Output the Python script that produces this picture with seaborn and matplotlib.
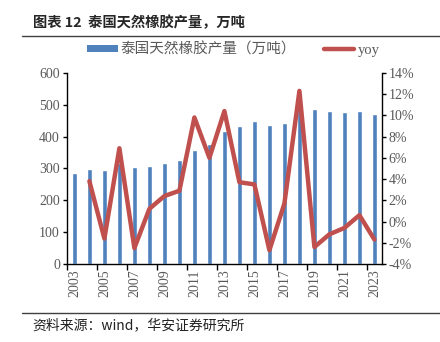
import numpy as np
import pandas as pd
import matplotlib
matplotlib.use("Agg")
import matplotlib.pyplot as plt
import seaborn as sns
from matplotlib.ticker import FixedLocator, FuncFormatter
from matplotlib.patches import Patch
from matplotlib.lines import Line2D

years = list(range(2003, 2024))
production = [287, 298, 295, 317, 305, 309, 317, 326, 357, 378, 417, 433,
              448, 436, 443, 495, 485, 479, 476, 479, 471]
yoy_years = list(range(2004, 2024))
yoy = [3.8, -1.6, 6.9, -2.5, 1.2, 2.4, 2.9, 9.8, 6.0, 10.4, 3.7, 3.5,
       -2.7, 1.7, 12.3, -2.4, -1.2, -0.6, 0.6, -1.7]

title = "图表 12  泰国天然橡胶产量，万吨"
bar_label = "泰国天然橡胶产量（万吨）"
line_label = "yoy"
source = "资料来源：wind，华安证券研究所"

sns.set_theme(style="white")
plt.rcParams['font.family'] = ['Liberation Serif', 'Noto Sans CJK SC']

BLUE = "#4F81BD"
RED = "#C0504D"
GRAY = "#595959"

fig = plt.figure(figsize=(4.4, 3.42), dpi=100)
ax = fig.add_axes([0.152, 0.228, 0.716, 0.559])

df = pd.DataFrame({"year": [str(y) for y in years], "prod": production})
sns.barplot(data=df, x="year", y="prod", color=BLUE, width=0.36, ax=ax,
            saturation=1)
ax.set_xlim(-0.5, len(years) - 0.5)
ax.set_ylim(0, 600)
ax.set_yticks(range(0, 601, 100))
ax.set_xlabel("")
ax.set_ylabel("")

ax2 = ax.twinx()
dfl = pd.DataFrame({"pos": [y - years[0] for y in yoy_years], "yoy": yoy})
sns.lineplot(data=dfl, x="pos", y="yoy", color=RED, linewidth=3.2, ax=ax2)
ax2.set_ylim(-4, 14)
ax2.set_yticks(range(-4, 15, 2))
ax2.yaxis.set_major_formatter(FuncFormatter(lambda v, p: f"{int(v)}%"))
ax2.set_xlim(-0.5, len(years) - 0.5)
ax2.set_xlabel("")
ax2.set_ylabel("")

# x ticks
ax.set_xticks(range(0, len(years), 2))
ax.set_xticklabels([str(y) for y in years[::2]], rotation=90)
ax.xaxis.set_minor_locator(FixedLocator(np.arange(-0.5, len(years), 2)))
ax.tick_params(axis="x", which="major", length=0, pad=4, labelsize=10, colors=GRAY)
ax.tick_params(axis="x", which="minor", length=4, width=1, color="black", direction="out", bottom=True)
ax.tick_params(axis="y", length=3, width=1, color="black", direction="out", left=True,
               labelsize=10, labelcolor=GRAY, pad=2)
ax2.tick_params(axis="y", length=3, width=1, color="black", direction="out", right=True,
                labelsize=10, labelcolor=GRAY, pad=2)

for a in (ax, ax2):
    a.spines["top"].set_visible(False)
    for s in ("left", "right", "bottom"):
        a.spines[s].set_color("black")
        a.spines[s].set_linewidth(1)
    a.grid(False)
ax.spines["right"].set_visible(False)
ax2.spines["left"].set_visible(False)
ax2.spines["bottom"].set_visible(False)

# legend
handles = [Patch(facecolor=BLUE, edgecolor="none"),
           Line2D([0], [0], color=RED, linewidth=3.2)]
leg = fig.legend(handles, [bar_label, line_label], loc="center",
                 bbox_to_anchor=(0.53, 0.855), ncol=2, frameon=False,
                 handlelength=2.1, handleheight=0.45,
                 columnspacing=1.9, handletextpad=0.2,
                 prop={"family": ["Liberation Serif", "Noto Sans CJK SC"], "size": 10.5})
for t in leg.get_texts():
    t.set_color(GRAY)

# title and rules
fig.text(0.075, 0.933, title, fontsize=10.3, fontweight="bold",
         family=["Noto Sans CJK SC"], va="center", ha="left")
fig.add_artist(Line2D([0.05, 1.0], [0.895, 0.895], color="#404040", linewidth=1))
fig.add_artist(Line2D([0.05, 1.0], [0.085, 0.085], color="#404040", linewidth=1))
fig.text(0.073, 0.05, source, fontsize=10, family=["Noto Sans CJK SC"],
         va="center", ha="left", color="#222222")

fig.savefig("out.png", dpi=100)
